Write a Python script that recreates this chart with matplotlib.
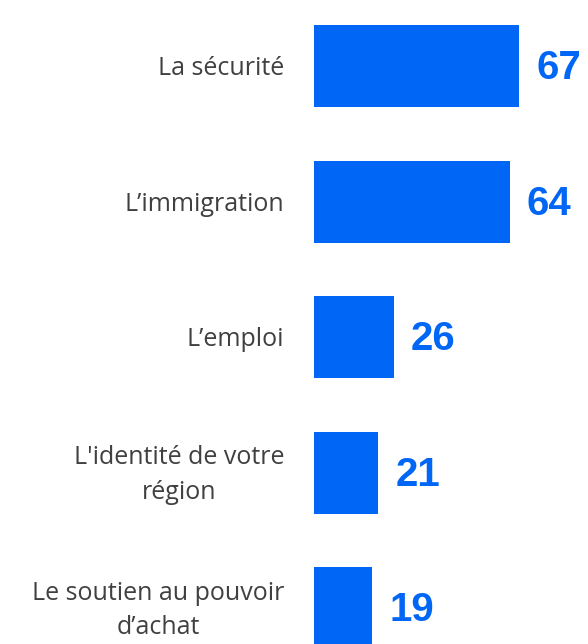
import matplotlib.pyplot as plt

categories = ["La sécurité", "L\u2019immigration", "L\u2019emploi",
              "L'identité de votre\nrégion", "Le soutien au pouvoir\nd\u2019achat"]
values = [67, 64, 26, 21, 19]

blue = "#0066F5"
W, H, dpi = 588, 644, 100
px = 205 / 67  # pixels per unit

fig = plt.figure(figsize=(W / dpi, H / dpi), dpi=dpi)
left = 314
right = left + 80 * px
ax = fig.add_axes([left / W, 0, (right - left) / W, 1])
ax.set_xlim(0, 80)
step = 135.5
ax.set_ylim((H - 66) / step, -66 / step)
ax.axis("off")

ypos = range(len(values))
ax.barh(ypos, values, height=82 / step, color=blue)

for y, v, c in zip(ypos, values, categories):
    ax.annotate(str(v), (v, y), xytext=(17 * 72 / dpi, -1.5), textcoords="offset points",
                ha="left", va="center", color=blue, fontsize=29, fontweight="bold",
                family="Liberation Sans", annotation_clip=False)
    ax.text(-30 / px, y + 0.02, c, ha="right", va="center", multialignment="center",
            color="#404040", fontsize=18, family="Open Sans", linespacing=1.5,
            clip_on=False)

fig.savefig("out.png", dpi=dpi)
